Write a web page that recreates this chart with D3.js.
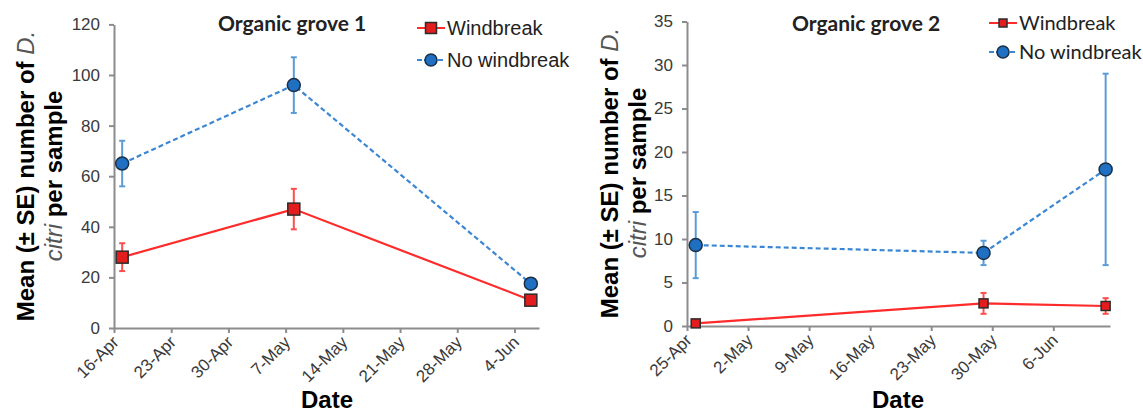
<!DOCTYPE html>
<html>
<head>
<meta charset="utf-8">
<script src="https://cdn.jsdelivr.net/npm/d3@7"></script>
<style>
  body { margin: 0; background: #fff; }
  svg { display: block; }
  .axis path, .axis line { stroke: #8c8c8c; stroke-width: 2; }
  .axis text { font-family: "Liberation Sans", Arial, sans-serif; font-size: 17px; fill: #3a3a3a; }
</style>
</head>
<body>
<script>
//data (mean and SE per sampling date)
var grove1Dates = ["2014-04-17", "2014-05-08", "2014-06-06"];
var grove1Wind = [28, 47, 11];
var grove1WindSE = [5.5, 8, 1.5];
var grove1NoWind = [65, 96, 17.5];
var grove1NoWindSE = [9, 11, 1.5];
var grove1Ticks = ["16-Apr", "23-Apr", "30-Apr", "7-May", "14-May", "21-May", "28-May", "4-Jun"];
var grove1YTicks = [0, 20, 40, 60, 80, 100, 120];

var grove2Dates = ["2014-04-26", "2014-05-29", "2014-06-12"];
var grove2Wind = [0.3, 2.6, 2.3];
var grove2WindSE = [0.2, 1.2, 0.9];
var grove2NoWind = [9.3, 8.4, 18];
var grove2NoWindSE = [3.8, 1.4, 11];
var grove2Ticks = ["25-Apr", "2-May", "9-May", "16-May", "23-May", "30-May", "6-Jun"];
var grove2YTicks = [0, 5, 10, 15, 20, 25, 30, 35];

var seriesNames = ["Windbreak", "No windbreak"];

var width = 1143,
	height = 413;

var parseDate = d3.timeParse("%Y-%m-%d");
var parseTick = function(s){ return d3.timeParse("%d-%b-%Y")(s + "-2014"); };
var fmtTick = d3.timeFormat("%-d-%b");

var svg = d3.select("body")
	.append("svg")
	.attr("width", width)
	.attr("height", height);

//draw one grove panel
function drawPanel(p){
	var g = svg.append("g");

	var x = d3.scaleTime()
		.domain(p.xDomain)
		.range([p.left, p.right]);

	var y = d3.scaleLinear()
		.domain([0, d3.max(p.yTicks)])
		.range([p.bottom, p.top]);

	//axes
	var xAxis = g.append("g")
		.attr("class", "axis")
		.attr("transform", "translate(0," + p.bottom + ")")
		.call(d3.axisBottom(x)
			.tickValues(p.ticks.map(parseTick))
			.tickFormat(fmtTick)
			.tickSize(5)
			.tickSizeOuter(0));
	xAxis.selectAll("text")
		.attr("x", 0)
		.attr("y", 0)
		.attr("dy", "0.35em")
		.attr("transform", "translate(1,11) rotate(-45)")
		.style("text-anchor", "end");

	g.append("g")
		.attr("class", "axis")
		.attr("transform", "translate(" + p.left + ",0)")
		.call(d3.axisLeft(y)
			.tickValues(p.yTicks)
			.tickSize(5)
			.tickPadding(9)
			.tickSizeOuter(0));

	var dates = p.dates.map(parseDate);
	var series = [
		{vals: p.wind, se: p.windSE, line: "#ff2b2b", bar: "#ff4d4d", dash: null, shape: "square"},
		{vals: p.noWind, se: p.noWindSE, line: "#3b87d4", bar: "#5b9bd5", dash: "5,3", shape: "circle"}
	];

	series.forEach(function(s){
		var pts = dates.map(function(d, i){ return {date: d, v: s.vals[i], se: s.se[i]}; });

		//error bars
		var eb = g.selectAll(null)
			.data(pts)
			.enter()
			.append("g")
			.attr("stroke", s.bar)
			.attr("stroke-width", 2);
		eb.append("line")
			.attr("x1", function(d){ return x(d.date); })
			.attr("x2", function(d){ return x(d.date); })
			.attr("y1", function(d){ return y(d.v + d.se); })
			.attr("y2", function(d){ return y(Math.max(0, d.v - d.se)); });
		[1, -1].forEach(function(sign){
			eb.append("line")
				.attr("x1", function(d){ return x(d.date) - 3; })
				.attr("x2", function(d){ return x(d.date) + 3; })
				.attr("y1", function(d){ return y(Math.max(0, d.v + sign * d.se)); })
				.attr("y2", function(d){ return y(Math.max(0, d.v + sign * d.se)); });
		});

		//connecting line
		g.append("path")
			.datum(pts)
			.attr("fill", "none")
			.attr("stroke", s.line)
			.attr("stroke-width", 2.2)
			.attr("stroke-dasharray", s.dash)
			.attr("d", d3.line()
				.x(function(d){ return x(d.date); })
				.y(function(d){ return y(d.v); }));
	});

	//markers on top
	series.forEach(function(s){
		var pts = dates.map(function(d, i){ return {date: d, v: s.vals[i]}; });
		if (s.shape == "square"){
			g.selectAll(null)
				.data(pts)
				.enter()
				.append("rect")
				.attr("x", function(d){ return x(d.date) - p.sq / 2; })
				.attr("y", function(d){ return y(d.v) - p.sq / 2; })
				.attr("width", p.sq)
				.attr("height", p.sq)
				.attr("fill", "#e31d1d")
				.attr("stroke", "#2b2b2b")
				.attr("stroke-width", 1.5);
		} else {
			g.selectAll(null)
				.data(pts)
				.enter()
				.append("circle")
				.attr("cx", function(d){ return x(d.date); })
				.attr("cy", function(d){ return y(d.v); })
				.attr("r", 6.5)
				.attr("fill", "#1f6fc2")
				.attr("stroke", "#1b2f45")
				.attr("stroke-width", 1.5);
		}
	});

	//panel title
	g.append("text")
		.attr("x", p.titleX)
		.attr("y", 31)
		.attr("text-anchor", "middle")
		.style("font-family", "Lato, 'Open Sans', sans-serif")
		.style("font-weight", "bold")
		.style("font-size", "21px")
		.style("fill", "#222")
		.text(p.title);

	//legend
	var leg = g.selectAll(".legend")
		.data(seriesNames)
		.enter()
		.append("g")
		.attr("transform", function(d, i){ return "translate(" + p.legX + "," + p.legY[i] + ")"; });
	leg.append("line")
		.attr("x1", 0)
		.attr("x2", 28)
		.attr("stroke", function(d, i){ return series[i].line; })
		.attr("stroke-width", 2)
		.attr("stroke-dasharray", function(d, i){ return i ? "5,2" : null; });
	leg.each(function(d, i){
		var el = d3.select(this);
		if (i == 0){
			el.append("rect")
				.attr("x", 14 - p.legSq / 2)
				.attr("y", -p.legSq / 2)
				.attr("width", p.legSq)
				.attr("height", p.legSq)
				.attr("fill", "#e31d1d")
				.attr("stroke", "#2b2b2b")
				.attr("stroke-width", 1.5);
		} else {
			el.append("circle")
				.attr("cx", 14)
				.attr("r", 6)
				.attr("fill", "#1f6fc2")
				.attr("stroke", "#1b2f45")
				.attr("stroke-width", 1.5);
		}
	});
	leg.append("text")
		.attr("x", 30)
		.attr("dy", "0.35em")
		.style("font-family", p.legFont)
		.style("font-size", p.legSize)
		.style("fill", "#222")
		.text(function(d){ return d; });

	//y axis title, two lines
	var yt = g.append("text")
		.attr("transform", "translate(" + p.yTitleX + "," + p.yTitleY + ") rotate(-90)")
		.attr("text-anchor", "middle")
		.style("font-family", "'Liberation Sans', Arial, sans-serif")
		.style("font-size", "24px")
		.style("font-weight", "bold");
	yt.append("tspan")
		.attr("x", 0)
		.attr("y", 0)
		.text("Mean (± SE) number of ");
	yt.append("tspan")
		.style("font-style", "italic")
		.style("font-weight", "normal")
		.style("fill", "#555")
		.text("D.");
	yt.append("tspan")
		.attr("x", 0)
		.attr("y", 28)
		.style("font-style", "italic")
		.style("font-weight", "normal")
		.style("fill", "#555")
		.text("citri");
	yt.append("tspan")
		.text(" per sample");

	//x axis title
	g.append("text")
		.attr("x", p.dateX)
		.attr("y", 408)
		.attr("text-anchor", "middle")
		.style("font-family", "'Liberation Sans', Arial, sans-serif")
		.style("font-size", "24px")
		.style("font-weight", "bold")
		.text("Date");
}

drawPanel({
	title: "Organic grove 1",
	dates: grove1Dates, wind: grove1Wind, windSE: grove1WindSE,
	noWind: grove1NoWind, noWindSE: grove1NoWindSE,
	ticks: grove1Ticks, yTicks: grove1YTicks,
	xDomain: [parseDate("2014-04-16"), parseDate("2014-06-07")],
	left: 114, right: 539, top: 24.4, bottom: 328,
	sq: 12, legSq: 11,
	titleX: 292, legX: 417, legY: [28, 60],
	legFont: "'Liberation Sans', Arial, sans-serif", legSize: "20px",
	yTitleX: 34, yTitleY: 176, dateX: 327
});

drawPanel({
	title: "Organic grove 2",
	dates: grove2Dates, wind: grove2Wind, windSE: grove2WindSE,
	noWind: grove2NoWind, noWindSE: grove2NoWindSE,
	ticks: grove2Ticks, yTicks: grove2YTicks,
	xDomain: [parseDate("2014-04-25"), new Date(2014, 5, 12, 12)],
	left: 687, right: 1110, top: 21.5, bottom: 326,
	sq: 9, legSq: 8,
	titleX: 866, legX: 989, legY: [23, 52],
	legFont: "Lato, 'Open Sans', sans-serif", legSize: "20px",
	yTitleX: 618, yTitleY: 173, dateX: 898
});
</script>
</body>
</html>
